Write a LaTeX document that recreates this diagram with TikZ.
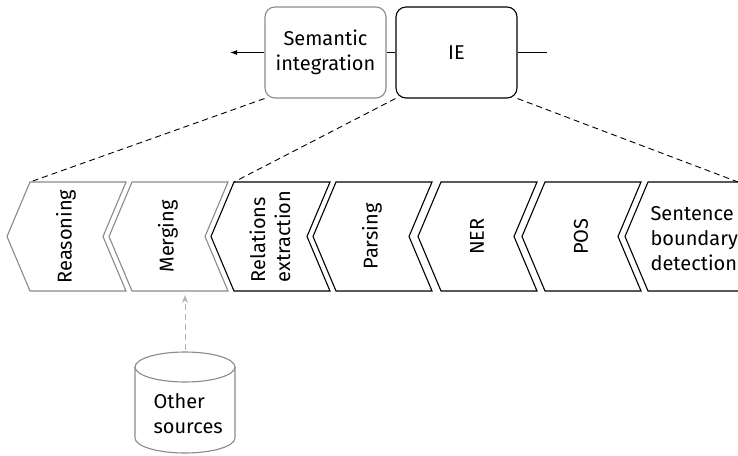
\documentclass[tikz,border=0pt]{standalone}
\usepackage{fontspec}
\setmainfont{Fira Sans}
\usetikzlibrary{arrows.meta}
\definecolor{midgray}{HTML}{8A8A8A}
\definecolor{lightgray}{HTML}{B4B4B4}
\begin{document}
\begin{tikzpicture}[x=1pt,y=-1pt,
  font=\fontsize{20}{25}\selectfont,
  line width=1.1pt,
  topbox/.style={draw, rounded corners=10pt, minimum width=121pt,
    minimum height=91pt, align=center, inner sep=0pt},
  chev/.style={line join=miter},
  guide/.style={dashed, dash pattern=on 6pt off 4pt, line width=0.9pt},
  lbl/.style={rotate=90, align=left, inner sep=0pt}]
\useasboundingbox (0,0) rectangle (738,455);
\clip (0,0) rectangle (738,455);

% upper pipeline stages
\node[topbox, draw=midgray] (sem) at (325.5,52.5) {Semantic\\integration};
\node[topbox] (ie) at (456.5,52.5) {IE};
\coordinate (outp) at (230,52.5);
\coordinate (inp) at (547,52.5);
\draw (ie.west) -- (sem.east);
\draw[-{Latex[length=7pt,width=5pt]}] (sem.west) -- (outp);
\draw (inp) -- (ie.east);

% chevron stages of the detailed chain
\foreach \i/\xa/\w/\txt/\col in {0/30/96/Reasoning/midgray, 1/132/96/Merging/midgray,
    2/234/96/{Relations\\extraction}/black, 3/336/96/Parsing/black,
    4/441/96/NER/black, 5/545/96/POS/black, 6/648/130/{}/black} {
  \draw[chev, draw=\col] (\xa,182) coordinate (c\i-tl)
    -- ++(-23,54.5) coordinate (c\i-tip)
    -- ++(23,54.5) coordinate (c\i-bl)
    -- ++(\w,0) coordinate (c\i-br)
    -- ++(-23,-54.5) coordinate (c\i-notch)
    -- ++(23,-54.5) coordinate (c\i-tr)
    -- cycle;
  \ifnum\i<6
    \node[lbl] (t\i) at (\xa+36,236.5) {\txt};
  \fi
}
\node[anchor=west, align=left, inner sep=0pt] (t6) at (650,238.5)
  {Sentence\\boundary\\detection};
\coordinate (c6-edge) at (738,182);

% zoom-in guides from the upper stages to the chain
\draw[guide] (sem.south west) -- (c0-tl);
\draw[guide] (ie.south west) -- (c2-tl);
\draw[guide] (ie.south east) -- (c6-edge);

% external data store
\begin{scope}[draw=midgray]
  \draw (185,367) ellipse [x radius=50, y radius=15];
  \draw (135,367) -- (135,438) arc [start angle=180, end angle=0,
    x radius=50, y radius=15] -- (235,367);
\end{scope}
\coordinate (srctop) at (185,350);
\coordinate (mergein) at (185,295);
\node[align=left, inner sep=0pt, anchor=west] (src) at (153,414)
  {Other\\sources};
\draw[lightgray, dashed, dash pattern=on 6pt off 4pt, line width=1pt,
  -{Stealth[length=8pt,width=6pt]}] (srctop) -- (mergein);
\end{tikzpicture}
\end{document}
